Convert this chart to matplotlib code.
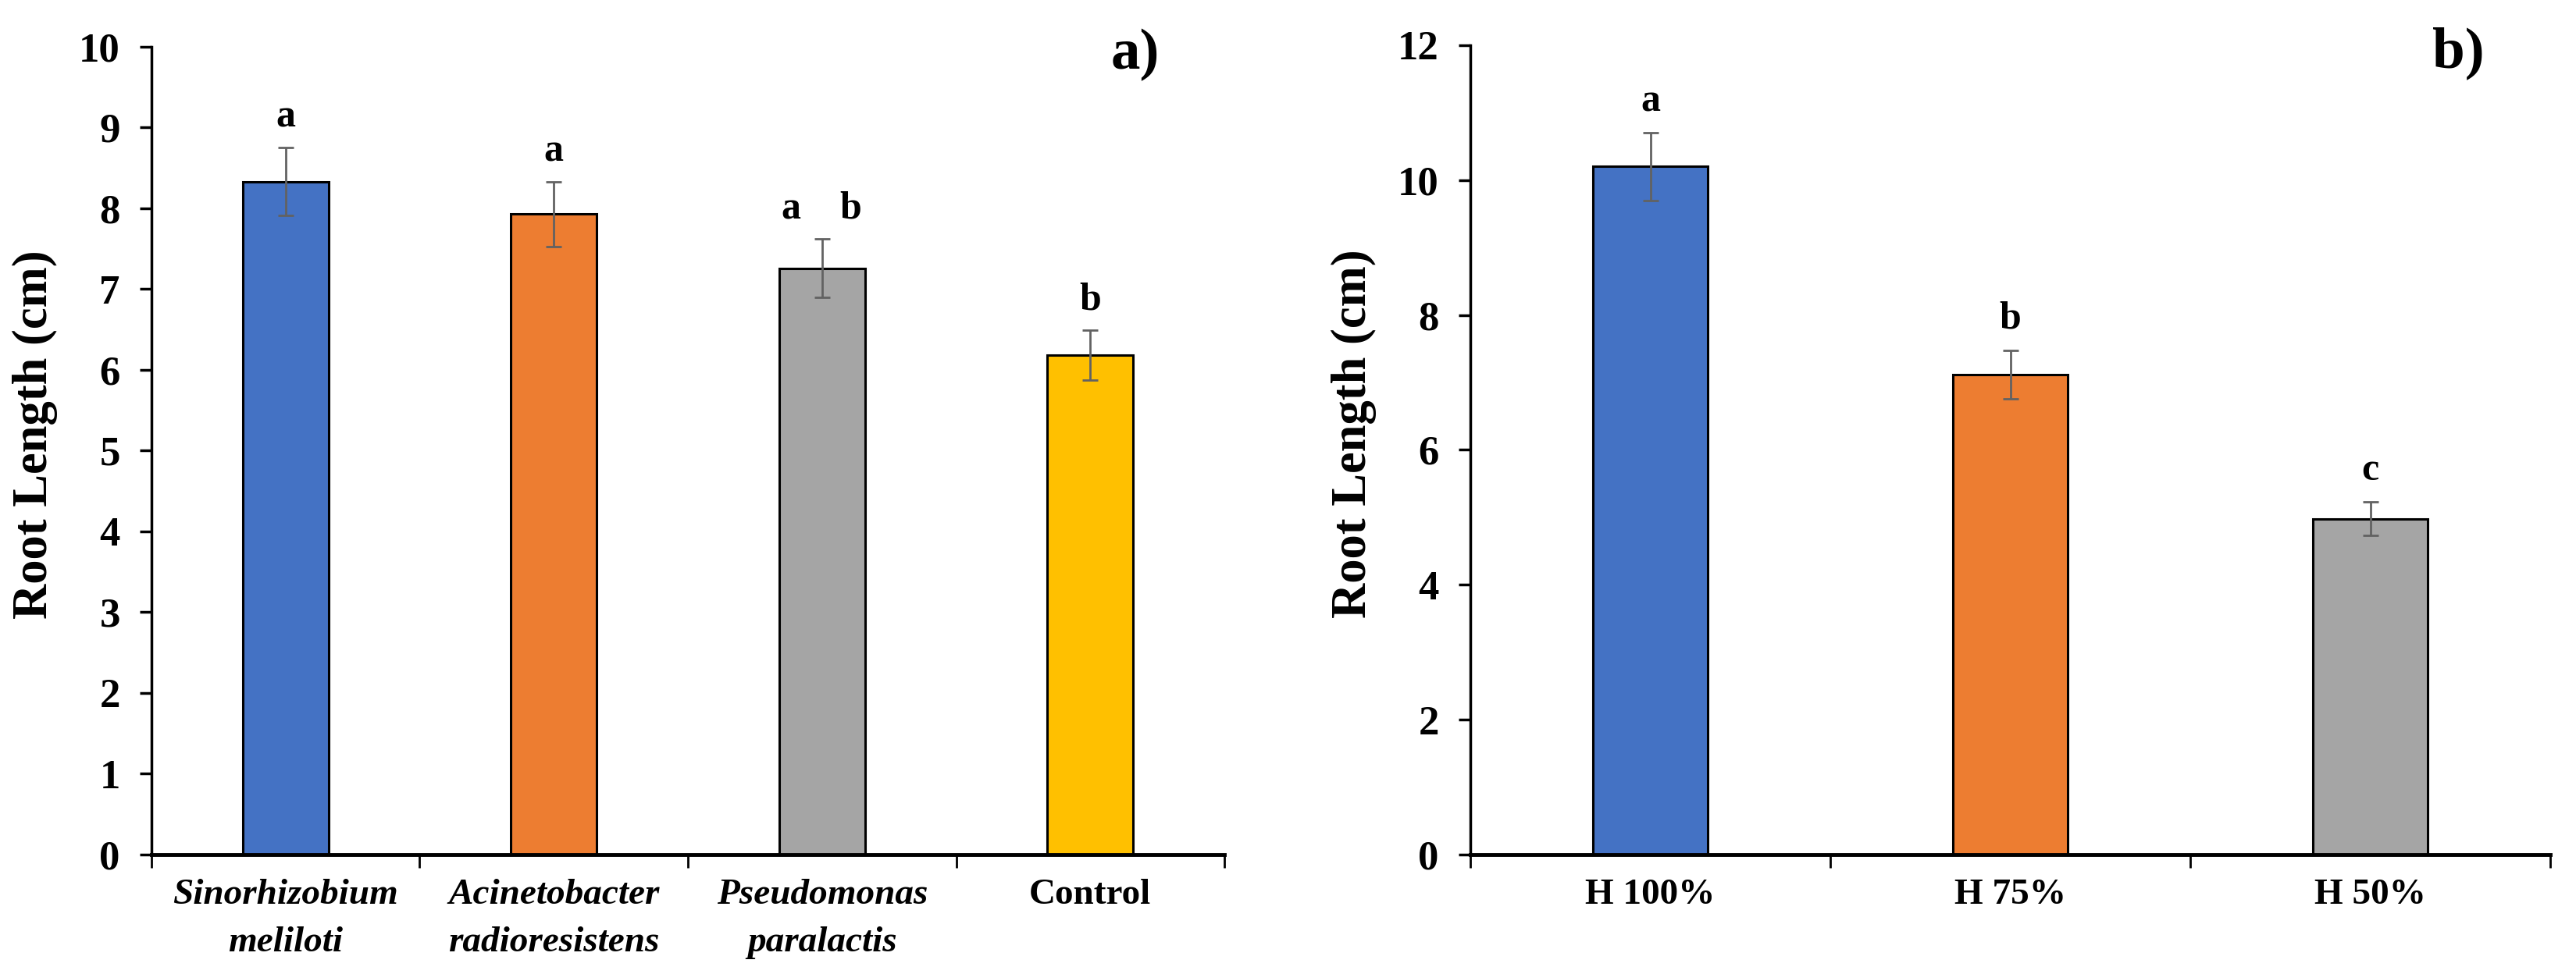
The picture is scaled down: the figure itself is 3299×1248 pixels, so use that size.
import matplotlib
matplotlib.use("Agg")
import matplotlib.pyplot as plt
import numpy as np

plt.rcParams['font.family'] = ['Liberation Serif', 'DejaVu Serif']

# ---- data: panel a ----
cats_a = ["Sinorhizobium\nmeliloti", "Acinetobacter\nradioresistens", "Pseudomonas\nparalactis", "Control"]
italic_a = [True, True, True, False]
vals_a = [8.33, 7.93, 7.26, 6.18]
errs_a = [0.42, 0.40, 0.36, 0.31]
letters_a = ["a", "a", "a    b", "b"]
colors_a = ["#4472C4", "#ED7D31", "#A5A5A5", "#FFC000"]
yticks_a = [0, 1, 2, 3, 4, 5, 6, 7, 8, 9, 10]

# ---- data: panel b ----
cats_b = ["H 100%", "H 75%", "H 50%"]
vals_b = [10.20, 7.12, 4.98]
errs_b = [0.50, 0.36, 0.25]
letters_b = ["a", "b", "c"]
colors_b = ["#4472C4", "#ED7D31", "#A5A5A5"]
yticks_b = [0, 2, 4, 6, 8, 10, 12]

fig = plt.figure(figsize=(32.99, 12.48), dpi=100)
axA = fig.add_axes([0.0588, 0.1226, 0.4165, 0.8294])
axB = fig.add_axes([0.5708, 0.1226, 0.4192, 0.8310])

TICK_FS = 38
LAB_FS = 45
XT_FS = 34
LET_FS = 36


def style(ax, n, yticks):
    ax.set_xlim(0, n)
    ax.set_ylim(yticks[0], yticks[-1])
    ax.set_yticks(yticks)
    for s in ["top", "right"]:
        ax.spines[s].set_visible(False)
    ax.spines["left"].set_linewidth(2.5)
    ax.spines["bottom"].set_linewidth(3.5)
    ax.tick_params(axis="y", which="major", direction="out", length=11, width=2.5,
                   labelsize=TICK_FS, pad=18)
    for lab in ax.get_yticklabels():
        lab.set_fontweight("bold")
    ax.set_xticks(np.arange(n) + 0.5)
    ax.set_xticks(np.arange(n + 1), minor=True)
    ax.tick_params(axis="x", which="major", length=0, pad=22)
    ax.tick_params(axis="x", which="minor", direction="out", length=12, width=2)
    ax.set_ylabel("Root Length (cm)", fontsize=LAB_FS, fontweight="bold")


# panel a
xa = np.arange(len(cats_a)) + 0.5
axA.bar(xa, vals_a, width=0.32, color=colors_a, edgecolor="black", linewidth=2.2, zorder=2)
axA.errorbar(xa, vals_a, yerr=errs_a, fmt="none", ecolor="#626262", elinewidth=2,
             capsize=7, capthick=2, zorder=3)
style(axA, len(cats_a), yticks_a)
axA.set_xticklabels(cats_a, fontsize=XT_FS, fontweight="bold", linespacing=1.6)
for lab, it in zip(axA.get_xticklabels(), italic_a):
    lab.set_style("italic" if it else "normal")
    lab.set_verticalalignment("top")
for x, v, e, t in zip(xa, vals_a, errs_a, letters_a):
    axA.annotate(t, (x, v + e), xytext=(0, 19), textcoords="offset points",
                 ha="center", va="baseline", fontsize=LET_FS, fontweight="bold")
axA.text(0.917, 0.99, "a)", transform=axA.transAxes, ha="center", va="center",
         fontsize=54, fontweight="bold")
axA.yaxis.set_label_coords(-0.087, 0.52)

# panel b
xb = np.arange(len(cats_b)) + 0.5
axB.bar(xb, vals_b, width=0.32, color=colors_b, edgecolor="black", linewidth=2.2, zorder=2)
axB.errorbar(xb, vals_b, yerr=errs_b, fmt="none", ecolor="#626262", elinewidth=2,
             capsize=7, capthick=2, zorder=3)
style(axB, len(cats_b), yticks_b)
axB.set_xticklabels(cats_b, fontsize=XT_FS, fontweight="bold")
for x, v, e, t in zip(xb, vals_b, errs_b, letters_b):
    axB.annotate(t, (x, v + e), xytext=(0, 20), textcoords="offset points",
                 ha="center", va="baseline", fontsize=LET_FS, fontweight="bold")
axB.text(0.915, 0.99, "b)", transform=axB.transAxes, ha="center", va="center",
         fontsize=54, fontweight="bold")
axB.yaxis.set_label_coords(-0.087, 0.52)

fig.savefig("out.png", dpi=100)
